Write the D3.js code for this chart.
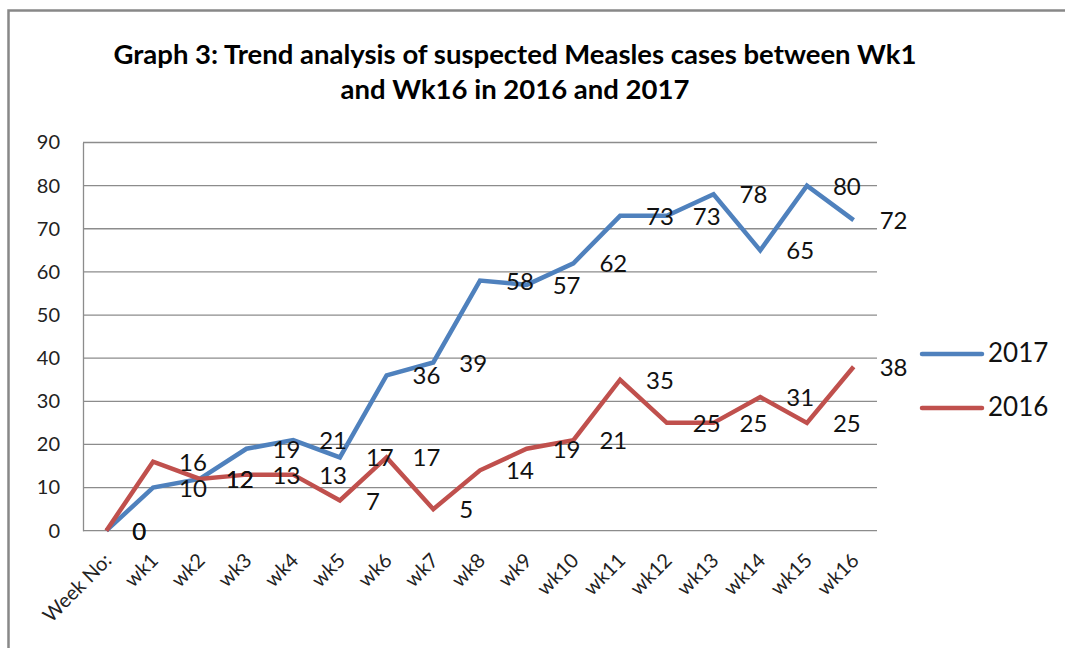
<!DOCTYPE html>
<html lang="en">
<head>
  <meta charset="UTF-8">
  <title>Measles trend</title>
  <script src="https://cdn.jsdelivr.net/npm/d3@7"></script>
  <style>
    html, body { margin: 0; padding: 0; background: #fff; }
    svg { display: block; font-family: Lato, "Open Sans", sans-serif; }
  </style>
</head>
<body>
  <svg id="chart" width="1065" height="648"></svg>
  <script>
    const weeks = ['Week No:', 'wk1', 'wk2', 'wk3', 'wk4', 'wk5', 'wk6', 'wk7', 'wk8',
      'wk9', 'wk10', 'wk11', 'wk12', 'wk13', 'wk14', 'wk15', 'wk16'];
    const cases2017 = [0, 10, 12, 19, 21, 17, 36, 39, 58, 57, 62, 73, 73, 78, 65, 80, 72];
    const cases2016 = [0, 16, 12, 13, 13, 7, 17, 5, 14, 19, 21, 35, 25, 25, 31, 25, 38];
    const yTicks = [0, 10, 20, 30, 40, 50, 60, 70, 80, 90];

    const series = [
      {name: '2017', values: cases2017, color: '#4F81BD'},
      {name: '2016', values: cases2016, color: '#C0504D'}
    ];

    const svg = d3.select('#chart');
    const plot = {left: 83, right: 877, top: 142.5, bottom: 530.7};

    // outer frame (top + left edge only visible)
    svg.append('path')
      .attr('d', 'M8.5,648 V10.5 H1065')
      .attr('fill', 'none')
      .attr('stroke', '#888')
      .attr('stroke-width', 2.5);

    // title
    const title = svg.append('text')
      .attr('text-anchor', 'middle')
      .attr('font-weight', 700)
      .attr('font-size', 27.5)
      .attr('fill', '#000');
    title.append('tspan').attr('x', 515).attr('y', 64)
      .text('Graph 3: Trend analysis of suspected Measles cases between Wk1');
    title.append('tspan').attr('x', 515).attr('y', 99)
      .text('and Wk16 in 2016 and 2017');

    const x = d3.scalePoint()
      .domain(weeks)
      .range([plot.left, plot.right])
      .padding(0.5);

    const y = d3.scaleLinear()
      .domain([0, 90])
      .range([plot.bottom, plot.top]);

    // gridlines
    svg.append('g')
      .selectAll('line')
      .data(yTicks)
      .join('line')
      .attr('x1', plot.left)
      .attr('x2', plot.right)
      .attr('y1', d => y(d))
      .attr('y2', d => y(d))
      .attr('stroke', '#8c8c8c')
      .attr('stroke-width', 1.3);

    // y axis
    const yAxis = svg.append('g')
      .attr('transform', `translate(${plot.left},0)`)
      .call(d3.axisLeft(y).tickValues(yTicks).tickSize(0).tickPadding(23));
    yAxis.select('.domain').attr('stroke', '#8c8c8c').attr('stroke-width', 1.3);
    yAxis.selectAll('text')
      .attr('font-family', 'Lato, sans-serif')
      .attr('font-size', 20)
      .attr('fill', '#222');

    // x axis
    const xAxis = svg.append('g')
      .attr('transform', `translate(0,${plot.bottom})`)
      .call(d3.axisBottom(x).tickSize(0).tickPadding(0));
    xAxis.select('.domain').remove();
    xAxis.selectAll('text')
      .attr('font-family', 'Lato, sans-serif')
      .attr('font-size', 20)
      .attr('fill', '#222')
      .attr('text-anchor', 'end')
      .attr('dy', 0)
      .attr('transform', 'translate(6,31) rotate(-45)');

    const line = d3.line()
      .x((d, i) => x(weeks[i]))
      .y(d => y(d));

    series.forEach(s => {
      svg.append('path')
        .datum(s.values)
        .attr('d', line)
        .attr('fill', 'none')
        .attr('stroke', s.color)
        .attr('stroke-width', 4.5)
        .attr('stroke-linejoin', 'miter');
    });

    // data labels (right of each point)
    series.forEach(s => {
      svg.append('g')
        .selectAll('text')
        .data(s.values)
        .join('text')
        .attr('x', (d, i) => x(weeks[i]) + 26)
        .attr('y', d => y(d) + 3)
        .attr('dominant-baseline', 'middle')
        .attr('font-size', 24)
        .attr('fill', '#111')
        .text(d => d);
    });

    // legend
    const legend = svg.append('g')
      .selectAll('g')
      .data(series)
      .join('g')
      .attr('transform', (d, i) => `translate(922,${354 + i * 54})`);
    legend.append('line')
      .attr('x1', 0).attr('x2', 60)
      .attr('stroke', d => d.color)
      .attr('stroke-width', 4.5)
      .attr('stroke-linecap', 'round');
    legend.append('text')
      .attr('x', 66)
      .attr('y', 1)
      .attr('dominant-baseline', 'middle')
      .attr('font-size', 26)
      .attr('fill', '#111')
      .text(d => d.name);
  </script>
</body>
</html>
